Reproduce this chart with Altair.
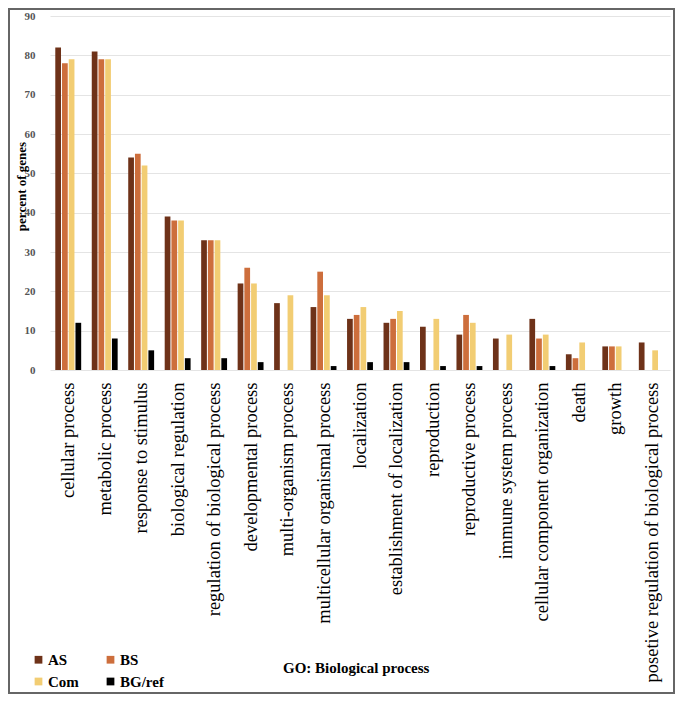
import altair as alt
import pandas as pd

categories = [
    "cellular process", "metabolic process", "response to stimulus",
    "biological regulation", "regulation of biological process",
    "developmental process", "multi-organism process",
    "multicellular organismal process", "localization",
    "establishment of localization", "reproduction", "reproductive process",
    "immune system process", "cellular component organization", "death",
    "growth", "posetive regulation of biological process",
]
series = ["AS", "BS", "Com", "BG/ref"]
as_vals = [82, 81, 54, 39, 33, 22, 17, 16, 13, 12, 11, 9, 8, 13, 4, 6, 7]
bs_vals = [78, 79, 55, 38, 33, 26, 0, 25, 14, 13, 0, 14, 0, 8, 3, 6, 0]
com_vals = [79, 79, 52, 38, 33, 22, 19, 19, 16, 15, 13, 12, 9, 9, 7, 6, 5]
bg_vals = [12, 8, 5, 3, 3, 2, 0, 1, 2, 2, 1, 1, 0, 1, 0, 0, 0]
colors = ["#6E3219", "#CD6E3C", "#F2CD73", "#000000"]
y_ticks = [0, 10, 20, 30, 40, 50, 60, 70, 80, 90]

rows = []
for s, vals in zip(series, [as_vals, bs_vals, com_vals, bg_vals]):
    for c, v in zip(categories, vals):
        rows.append({"category": c, "series": s, "value": v})
df = pd.DataFrame(rows)

SERIF = "Liberation Serif"

bars = alt.Chart(df).mark_bar().encode(
    x=alt.X("category:N", sort=categories,
            scale=alt.Scale(paddingInner=0.29, paddingOuter=0.145),
            axis=alt.Axis(title=None, labelAngle=270, labelFont=SERIF,
                          labelFontSize=18.5, labelColor="#000000",
                          labelPadding=12, ticks=False, tickSize=0,
                          domain=False, labelLimit=500, labelOverlap=False)),
    xOffset=alt.XOffset("series:N", sort=series,
                        scale=alt.Scale(paddingInner=0.15)),
    y=alt.Y("value:Q", scale=alt.Scale(domain=[0, 90], nice=False),
            axis=alt.Axis(title="percent of genes", values=y_ticks,
                          titleFont=SERIF, titleFontSize=13,
                          titleFontWeight="bold", titleColor="#000000",
                          titleX=-22, titleY=170,
                          labelFont=SERIF, labelFontSize=11,
                          labelFontWeight="bold", labelColor="#555555",
                          labelPadding=15, ticks=False, tickSize=0,
                          domain=False, gridColor="#e4e4e4")),
    color=alt.Color("series:N", sort=series,
                    scale=alt.Scale(domain=series, range=colors),
                    legend=alt.Legend(title=None, orient="none",
                                      legendX=-19, legendY=636,
                                      direction="horizontal",
                                      columns=2, symbolType="square",
                                      symbolSize=60, symbolStrokeWidth=0,
                                      labelOffset=2,
                                      labelFont=SERIF, labelFontSize=15,
                                      labelFontWeight="bold",
                                      labelColor="#000000",
                                      columnPadding=24, rowPadding=6,
                                      padding=0)),
)

note = alt.Chart(alt.Data(values=[{"t": "GO: Biological process"}])).mark_text(
    align="left", baseline="middle", font=SERIF, fontSize=15,
    fontWeight="bold", color="#000000"
).encode(text=alt.Text("t:N"), x=alt.value(233), y=alt.value(652))

frame = alt.Chart(alt.Data(values=[{"f": 1}])).mark_rect(
    fillOpacity=0, stroke="#666666", strokeWidth=2
).encode(x=alt.value(-41), x2=alt.value(624), y=alt.value(-7), y2=alt.value(677))

chart = alt.layer(bars, note, frame).properties(
    width=620, height=354,
    autosize=alt.AutoSizeParams(type="none"),
    padding={"left": 42, "top": 8, "right": 5, "bottom": 324},
    background="#ffffff",
).configure_view(stroke=None)

chart.save("out.html", embed_options={"renderer": "svg", "actions": False})
